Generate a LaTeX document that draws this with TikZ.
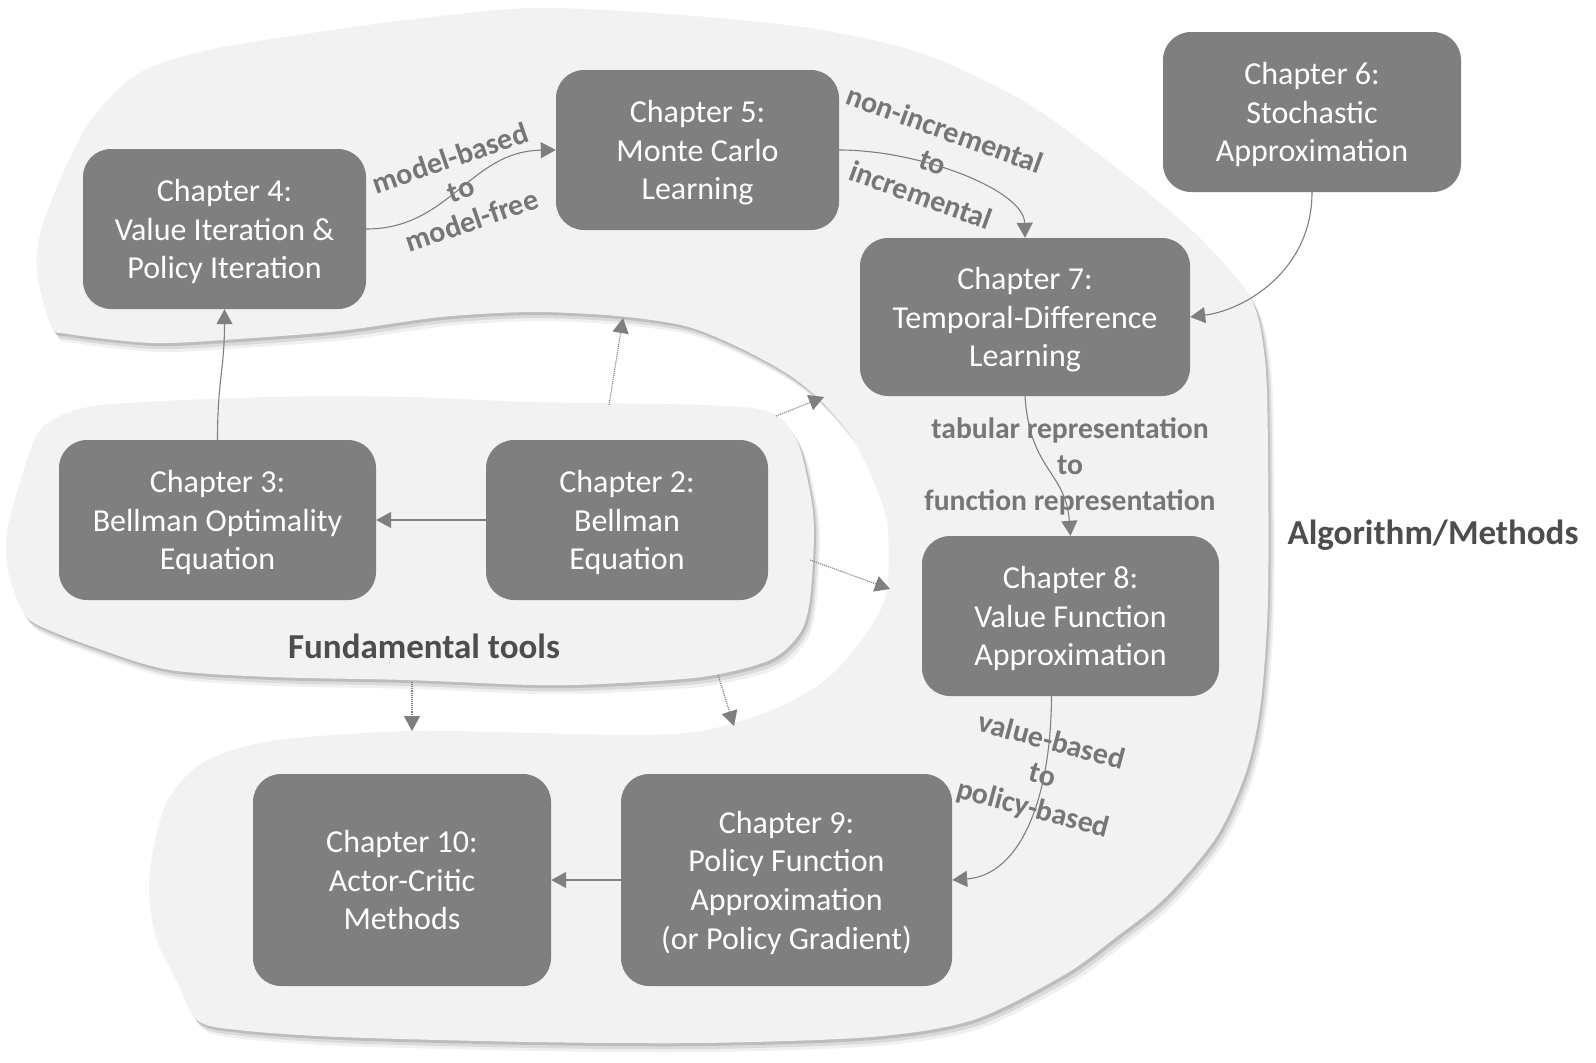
\documentclass[tikz,border=0pt]{standalone}
\usepackage{fontspec}
\setmainfont{Carlito}
\usetikzlibrary{arrows.meta}
\definecolor{boxgray}{HTML}{7F7F7F}
\definecolor{blobfill}{HTML}{F2F2F2}
\definecolor{lblgray}{HTML}{767676}
\definecolor{titlegray}{HTML}{4D4D4D}
\newcommand{\BigBlob}[1]{\fill[#1] plot[smooth cycle, tension=0.5] coordinates {(37,271) (44,221) (85,129) (136,75) (204,51) (305,34) (407,20) (532,8) (668,14) (803,27) (905,48) (973,75) (1041,112) (1132,180) (1200,238) (1251,299) (1265,360) (1268,450) (1268,599) (1261,701) (1247,769) (1217,836) (1166,897) (1115,938) (1064,975) (973,1020) (871,1037) (702,1043) (532,1042) (339,1037) (238,1030) (197,1020) (176,979) (156,938) (149,887) (156,836) (170,796) (204,762) (271,741) (407,731) (532,733) (634,735) (702,731) (770,711) (820,684) (854,650) (885,599) (888,531) (878,492) (854,441) (820,400) (786,373) (736,346) (685,326) (617,316) (532,312) (441,317) (339,331) (238,339) (153,343) (68,334) (51,326)};}
\newcommand{\FundBlob}[1]{\fill[#1] plot[smooth cycle, tension=0.5] coordinates {(7,532) (17,492) (34,441) (51,421) (102,405) (271,397) (407,397) (532,402) (702,405) (770,412) (797,441) (810,492) (814,532) (810,599) (800,633) (770,660) (702,677) (600,684) (532,685) (407,680) (271,677) (170,670) (102,650) (34,623) (17,599) (7,565)};}
\begin{document}
\begin{tikzpicture}[x=1pt,y=-1pt,
  chap/.style={fill=boxgray, rounded corners=28pt, text=white, align=center,
    font=\fontsize{32}{38.7}\selectfont, inner sep=0pt, text depth=0pt},
  conn/.style={draw=boxgray, line width=1.1pt, -{Triangle[length=15pt,width=16pt]}},
  dotconn/.style={conn, densely dotted},
  lbl/.style={text=lblgray, align=center, inner sep=0pt},
  title/.style={text=titlegray, inner sep=0pt, font=\bfseries\fontsize{35}{42}\selectfont}]
\useasboundingbox (0,0) rectangle (1596,1063);
\fill[white] (0,0) rectangle (1596,1063);
% blobs with soft shadows
\BigBlob{black, opacity=0.06, shift={(6,9)}}
\BigBlob{black, opacity=0.09, shift={(4,6)}}
\BigBlob{black, opacity=0.13, shift={(2,3)}}
\BigBlob{blobfill}
\FundBlob{black, opacity=0.06, shift={(6,9)}}
\FundBlob{black, opacity=0.09, shift={(4,6)}}
\FundBlob{black, opacity=0.13, shift={(2,3)}}
\FundBlob{blobfill}
% chapter boxes
\node[chap, minimum width=283pt, minimum height=160pt] (ch4) at (224.5,229) {Chapter 4:\\Value Iteration \&\\Policy Iteration};
\node[chap, minimum width=283pt, minimum height=160pt] (ch5) at (697.5,150) {Chapter 5:\\Monte Carlo\\Learning};
\node[chap, minimum width=298pt, minimum height=160pt] (ch6) at (1312,112) {Chapter 6:\\Stochastic\\Approximation};
\node[chap, minimum width=330pt, minimum height=158pt] (ch7) at (1025,317) {Chapter 7:\\Temporal-Difference\\Learning};
\node[chap, minimum width=317pt, minimum height=160pt] (ch3) at (217.5,520) {Chapter 3:\\Bellman Optimality\\Equation};
\node[chap, minimum width=282pt, minimum height=160pt] (ch2) at (627,520) {Chapter 2:\\Bellman\\Equation};
\node[chap, minimum width=297pt, minimum height=160pt] (ch8) at (1070.5,616) {Chapter 8:\\Value Function\\Approximation};
\node[chap, minimum width=331pt, minimum height=212pt] (ch9) at (786.5,880) {Chapter 9:\\Policy Function\\Approximation\\(or Policy Gradient)};
\node[chap, minimum width=298pt, minimum height=212pt] (ch10) at (402,880) {Chapter 10:\\Actor-Critic\\Methods};
% titles
\node[title] (ft) at (424,646) {Fundamental tools};
\node[title] (am) at (1433,535) {Algorithm/Methods};
% labels
\node[lbl, rotate=19, font=\bfseries\fontsize{30}{33}\selectfont] (l45) at (461,189) {model-based\\to\\model-free};
\node[lbl, rotate=-20, font=\bfseries\fontsize{30}{35}\selectfont] (l57) at (933,162) {non-incremental\\to\\incremental};
\node[lbl, font=\bfseries\fontsize{29.6}{36}\selectfont] (l78) at (1070,466) {tabular representation\\to\\function representation};
\node[lbl, rotate=-15, font=\bfseries\fontsize{30}{35}\selectfont] (l89) at (1042,776) {value-based\\to\\policy-based};
% connectors
\draw[conn] (ch3.north) .. controls +(0,-60) and +(0,60) .. (ch4.south);
\draw[conn] (ch2.west) -- (ch3.east);
\draw[conn] (ch4.east) .. controls (450,229) and (470,151) .. (ch5.west);
\draw[conn] (ch5.east) .. controls (920,150) and (1024,190) .. (ch7.north);
\draw[conn] (ch6.south) .. controls +(0,78) and +(55,-7) .. (ch7.east);
\draw[conn] (ch7.south) .. controls +(5,75) and +(-5,-65) .. (ch8.north);
\draw[conn] ([xshift=-19pt]ch8.south) .. controls (1051,800) and (1020,875) .. (ch9.east);
\draw[conn] (ch9.west) -- (ch10.east);
% dotted connectors between groups
\coordinate (fa) at (609,405); \coordinate (ta) at (623,318);
\coordinate (fb) at (776,416); \coordinate (tb) at (824,397);
\coordinate (fc) at (810,560); \coordinate (tc) at (890,589);
\coordinate (fd) at (718,675); \coordinate (td) at (734,726);
\coordinate (fe) at (412,682); \coordinate (te) at (412,731);
\draw[dotconn] (fa) -- (ta);
\draw[dotconn] (fb) -- (tb);
\draw[dotconn] (fc) -- (tc);
\draw[dotconn] (fd) -- (td);
\draw[dotconn] (fe) -- (te);
\end{tikzpicture}
\end{document}
